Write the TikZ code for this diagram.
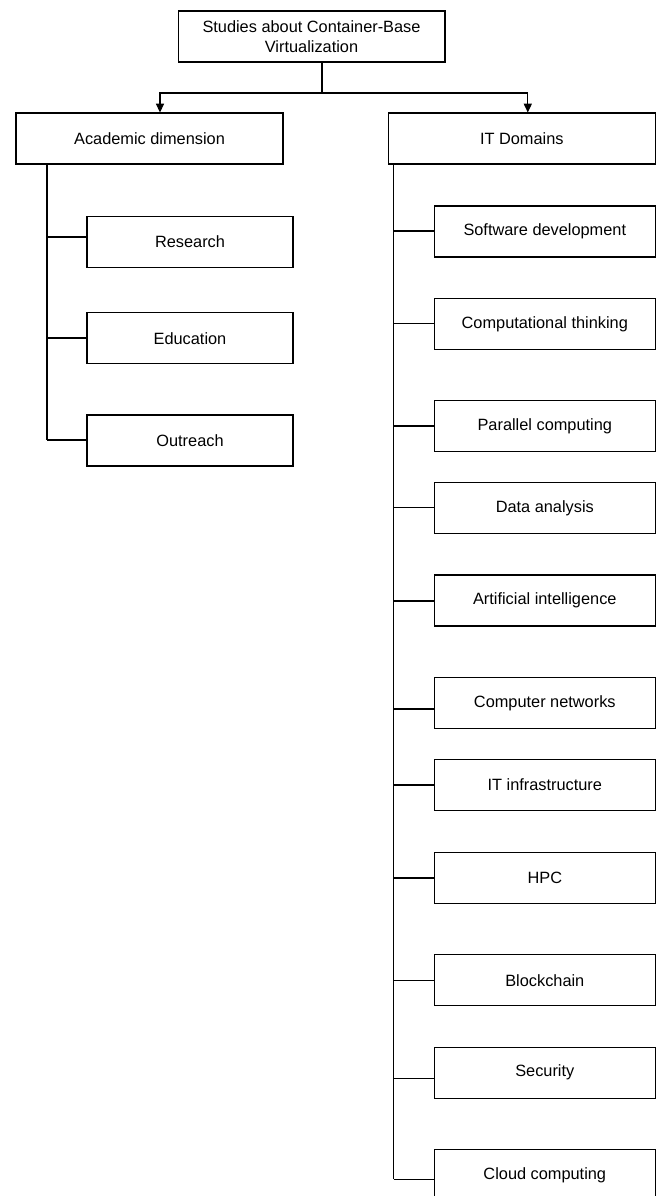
\documentclass[tikz,border=0pt]{standalone}
\usepackage{fontspec}
\setmainfont{Liberation Sans}
\usetikzlibrary{arrows.meta}

\begin{document}
\begin{tikzpicture}[x=0.02cm,y=-0.02cm,
  box/.style={draw,line width=0.6pt,align=center,inner sep=0pt,
    minimum height=1.02cm,font=\fontsize{9.3}{11.2}\selectfont},
  headbox/.style={box,minimum width=5.34cm},
  leftbox/.style={box,minimum width=4.12cm},
  rightbox/.style={box,minimum width=4.42cm},
  link/.style={line width=0.6pt},
  arr/.style={link,-{Triangle[length=5pt,width=4.6pt]}}]
\useasboundingbox (0,0) rectangle (660,1196);

% top and the two dimensions
\node[headbox] (top) at (311.5,36.5) {Studies about Container-Base\\Virtualization};
\node[headbox] (acad) at (149.5,138.5) {Academic dimension};
\node[headbox] (itd) at (521.8,138.5) {IT Domains};

\coordinate (split) at (322,93);
\draw[link] (top.south -| split) -- (split);
\draw[arr] (split) -| ([xshift=0.21cm]acad.north);
\draw[arr] (split) -| ([xshift=0.12cm]itd.north);

% academic dimension
\coordinate (lspine) at (47,440);
\draw[link] (acad.south -| lspine) -- (lspine);
\foreach \nm/\txt/\yy/\by in {res/Research/241.7/237,
    edu/Education/338.2/338,
    out/Outreach/440.5/440}{
  \node[leftbox] (\nm) at (190,\yy) {\txt};
  \coordinate (b-\nm) at (47,\by);
  \draw[link] (b-\nm) -- (b-\nm -| \nm.west);
}

% IT domains
\coordinate (rspine) at (393.5,1179.3);
\draw[link] (itd.south -| rspine) -- (rspine);
\foreach \nm/\txt/\yy/\by in {sd/Software development/231.5/231,
    ct/Computational thinking/323.8/323.7,
    pc/Parallel computing/426.2/426,
    da/Data analysis/508.3/507.7,
    ai/Artificial intelligence/600.5/601,
    cn/Computer networks/703.3/709,
    iti/IT infrastructure/785/785,
    hpc/HPC/877.8/878,
    bc/Blockchain/980.2/980.7,
    sec/Security/1072.7/1078.3,
    cc/Cloud computing/1174.8/1179.3}{
  \node[rightbox] (\nm) at (544.8,\yy) {\txt};
  \coordinate (b-\nm) at (393.5,\by);
  \draw[link] (b-\nm) -- (b-\nm -| \nm.west);
}
\end{tikzpicture}
\end{document}
